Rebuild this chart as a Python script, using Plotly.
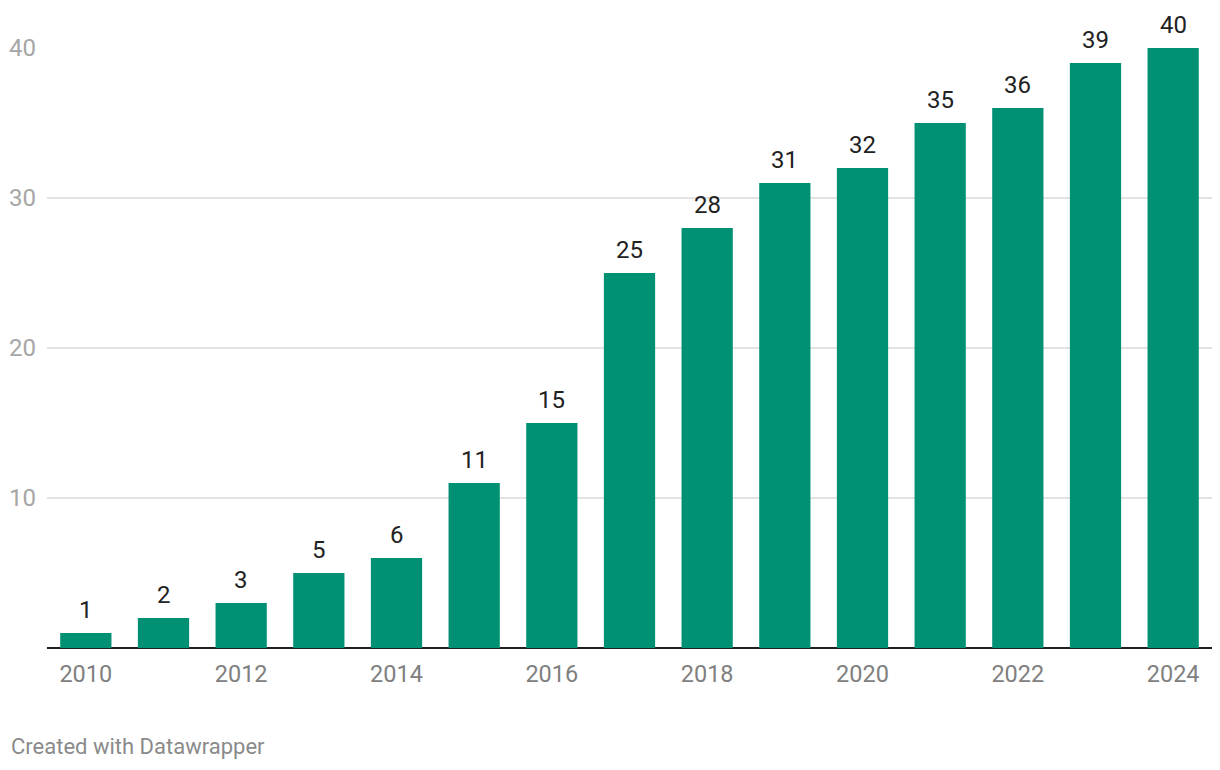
import plotly.graph_objects as go

years = [str(y) for y in range(2010, 2025)]
values = [1, 2, 3, 5, 6, 11, 15, 25, 28, 31, 32, 35, 36, 39, 40]
x_ticks = ["2010", "2012", "2014", "2016", "2018", "2020", "2022", "2024"]
y_ticks = [10, 20, 30, 40]

fig = go.Figure(go.Bar(
    x=years, y=values,
    marker=dict(color="#009175", line=dict(width=0)),
    hoverinfo="x+y",
))

label_annotations = [
    dict(x=i, y=v, xref="x", yref="y", text=str(v), showarrow=False,
         xanchor="center", yanchor="bottom", yshift=7,
         font=dict(family="Roboto", size=24, color="#222222"))
    for i, v in enumerate(values)
]

fig.update_layout(
    width=1212, height=762,
    margin=dict(l=39, r=8, t=40, b=122, autoexpand=False),
    plot_bgcolor="white", paper_bgcolor="white",
    bargap=0.34,
    showlegend=False,
    font=dict(family="Roboto"),
    xaxis=dict(
        type="category",
        range=[-0.5, len(years) - 0.5],
        tickvals=x_ticks, ticktext=x_ticks,
        tickfont=dict(family="Roboto", size=23.5, color="#808080"),
        showgrid=False, ticks="", ticklabelstandoff=9,
        automargin=False,
    ),
    yaxis=dict(
        range=[0, 40],
        tickvals=y_ticks,
        tickfont=dict(family="Roboto", size=24, color="#a6a6a6"),
        showgrid=True, gridcolor="#e3e3e3", gridwidth=1.5,
        zeroline=True, zerolinecolor="#1f1f1f", zerolinewidth=2,
        ticks="", ticklabelstandoff=10,
        automargin=False,
    ),
    annotations=label_annotations + [dict(
        text="Created with Datawrapper", xref="paper", yref="paper",
        x=0, y=0, xanchor="left", yanchor="middle",
        xshift=-38, yshift=-98,
        showarrow=False,
        font=dict(family="Roboto", size=22, color="#8a8a8a"),
    )],
)

fig.write_html("out.html")
